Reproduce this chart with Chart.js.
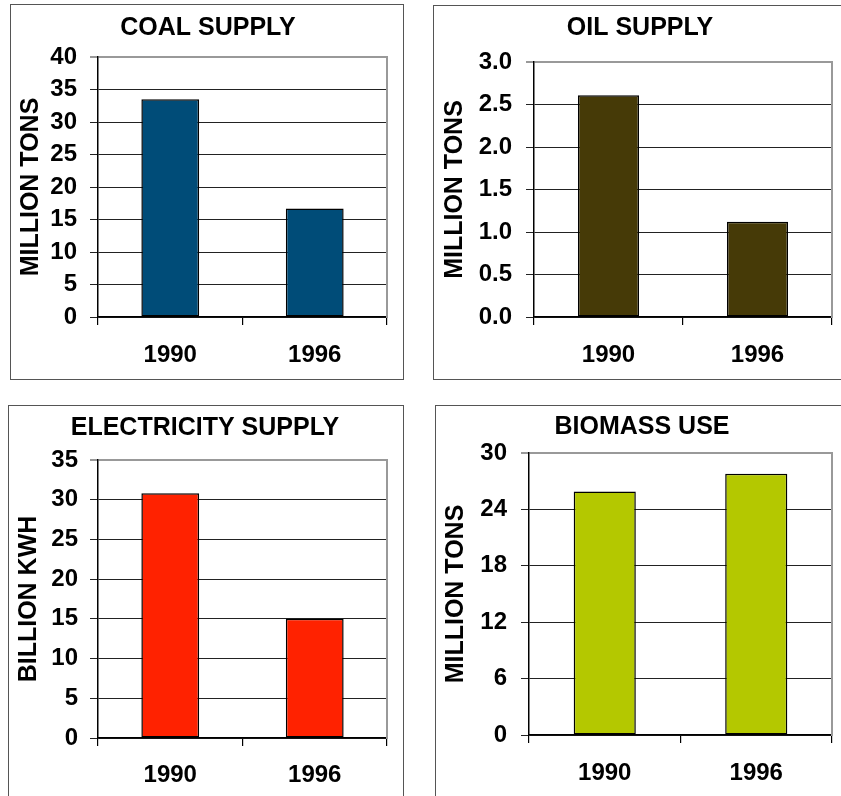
<!DOCTYPE html>
<html><head><meta charset="utf-8">
<script src="https://cdn.jsdelivr.net/npm/chart.js@4/dist/chart.umd.min.js"></script>
<style>
body{margin:0;width:841px;height:796px;position:relative;overflow:hidden;background:#fff}
.panel{position:absolute;border:1.5px solid #555;box-sizing:border-box}
canvas{position:absolute}
</style></head><body>
<div class="panel" style="left:10px;top:4px;width:394px;height:376px"></div>
<div class="panel" style="left:433px;top:5px;width:420px;height:375px"></div>
<div class="panel" style="left:8px;top:405px;width:396px;height:400px"></div>
<div class="panel" style="left:435px;top:405px;width:420px;height:400px"></div>
<canvas id="c1" width="420" height="395" style="left:0;top:0"></canvas>
<canvas id="c2" width="421" height="395" style="left:420px;top:0"></canvas>
<canvas id="c3" width="420" height="401" style="left:0;top:395px"></canvas>
<canvas id="c4" width="421" height="401" style="left:420px;top:395px"></canvas>
<script>
const categories = ['1990', '1996'];
const coalValues = [33.5, 16.7];
const oilValues = [2.61, 1.12];
const electricityValues = [30.8, 15.0];
const biomassValues = [25.9, 27.8];
const coalTicks = [0, 5, 10, 15, 20, 25, 30, 35, 40];
const oilTicks = [0, 0.5, 1.0, 1.5, 2.0, 2.5, 3.0];
const electricityTicks = [0, 5, 10, 15, 20, 25, 30, 35];
const biomassTicks = [0, 6, 12, 18, 24, 30];
const chartTitles = ['COAL SUPPLY', 'OIL SUPPLY', 'ELECTRICITY SUPPLY', 'BIOMASS USE'];
const axisTitles = ['MILLION TONS', 'MILLION TONS', 'BILLION KWH', 'MILLION TONS'];

const FONT = "'Liberation Sans', Arial, sans-serif";

function makeChart(id, title, yTitle, values, ticks, color, lay, decimals) {
  const maxV = ticks[ticks.length - 1];
  new Chart(document.getElementById(id), {
    type: 'bar',
    data: {
      labels: categories,
      datasets: [{
        data: values,
        backgroundColor: color,
        borderColor: '#000',
        borderWidth: 1.5,
        borderSkipped: false,
        categoryPercentage: 1,
        barPercentage: lay.bar
      }]
    },
    options: {
      responsive: false,
      animation: false,
      events: [],
      layout: { padding: { left: lay.L, right: lay.R, top: lay.T, bottom: lay.B } },
      plugins: {
        legend: { display: false },
        tooltip: { enabled: false },
        title: {
          display: true, text: title, color: '#000',
          font: { family: FONT, size: 25, weight: 'bold', lineHeight: 1.2 },
          padding: { top: lay.pt, bottom: lay.pb }
        }
      },
      scales: {
        x: {
          grid: { display: true, drawOnChartArea: false, drawTicks: true, tickLength: 8, color: '#000', lineWidth: 1.2, offset: true },
          border: { display: true, color: '#000', width: 1.5 },
          ticks: { color: '#000', padding: lay.xp, font: { family: FONT, size: 24, weight: 'bold' }, maxRotation: 0 },
          afterFit: s => { s.height = 50; }
        },
        y: {
          min: ticks[0], max: maxV,
          afterBuildTicks: s => { s.ticks = ticks.map(v => ({ value: v })); },
          grid: {
            color: c => (c.tick && c.tick.value === maxV) ? '#999' : '#222',
            lineWidth: c => (c.tick && c.tick.value === maxV) ? 2 : 1,
            tickLength: 8, drawTicks: true
          },
          border: { display: true, color: '#000', width: 1.5 },
          ticks: {
            color: '#000', padding: lay.yp,
            font: { family: FONT, size: 24, weight: 'bold' },
            callback: v => decimals ? Number(v).toFixed(decimals) : String(v)
          },
          title: {
            display: true, text: yTitle, color: '#000',
            font: { family: FONT, size: 25, weight: 'bold', lineHeight: 1.2 },
            padding: { top: lay.tp, bottom: 0 }
          },
          afterFit: s => { s.width = lay.yw; }
        },
        yR: {
          position: 'right', display: true, min: 0, max: 1,
          grid: { display: false, drawTicks: false },
          ticks: { display: false },
          border: { display: true, color: '#999', width: 2 },
          afterFit: s => { s.width = 0; }
        }
      }
    }
  });
}

makeChart('c1', chartTitles[0], axisTitles[0], coalValues, coalTicks, '#004C78',
  { L: 29, R: 33, T: 5, B: 28, pt: 8, pb: 14, yw: 69, tp: -13, xp: 16, yp: 13, bar: 0.4 }, 0);
makeChart('c2', chartTitles[1], axisTitles[1], oilValues, oilTicks, '#463A07',
  { L: 28, R: 9, T: 5, B: 28, pt: 8.5, pb: 18.5, yw: 86, tp: -8, xp: 16, yp: 14, bar: 0.41 }, 1);
makeChart('c3', chartTitles[2], axisTitles[2], electricityValues, electricityTicks, '#FF2200',
  { L: 23, R: 33, T: 5, B: 8, pt: 13, pb: 17, yw: 75, tp: -8.5, xp: 15, yp: 12, bar: 0.4 }, 0);
makeChart('c4', chartTitles[3], axisTitles[3], biomassValues, biomassTicks, '#B4C800',
  { L: 32, R: 9, T: 5, B: 11, pt: 12, pb: 11, yw: 77, tp: -11, xp: 16, yp: 14, bar: 0.41 }, 0);
</script>
</body></html>
